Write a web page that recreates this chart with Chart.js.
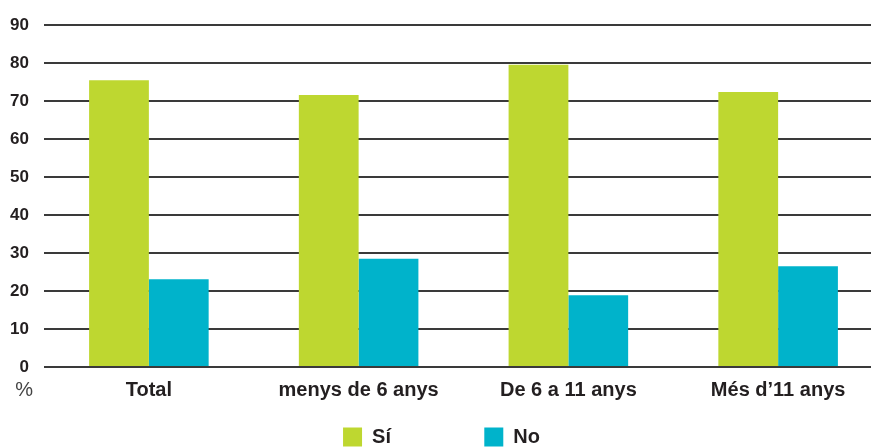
<!DOCTYPE html>
<html>
<head>
<meta charset="utf-8">
<script src="https://cdn.jsdelivr.net/npm/chart.js@4"></script>
<style>
  html, body { margin: 0; padding: 0; background: #fff; overflow: hidden; }
  #wrap { width: 871px; height: 448px; overflow: hidden; }
</style>
</head>
<body>
<div id="wrap"><canvas id="myChart" width="883" height="457"></canvas></div>
<script>
// valors llegits del gràfic (%)
const categories = ['Total', 'menys de 6 anys', 'De 6 a 11 anys', 'Més d\u201911 anys'];
const valorsSi = [75.5, 71.6, 79.6, 72.4];
const valorsNo = [23.1, 28.5, 18.9, 26.5];
const yTicks = [0, 10, 20, 30, 40, 50, 60, 70, 80, 90];

const textColor = '#231f20';

// escriu el "%" sota l'eix vertical
const percentLabel = {
    id: 'percentLabel',
    afterDraw(chart) {
        const ctx = chart.ctx;
        const y = chart.scales.y.getPixelForValue(0) + 11 + 12;
        ctx.save();
        ctx.font = '20px "Liberation Sans", Arial, sans-serif';
        ctx.fillStyle = '#444';
        ctx.textAlign = 'right';
        ctx.textBaseline = 'middle';
        ctx.fillText('%', 33, y);
        ctx.restore();
    }
};

const ctx = document.getElementById('myChart').getContext('2d');
const myChart = new Chart(ctx, {
    type: 'bar',
    data: {
        labels: categories,
        datasets: [{
            label: 'Sí',
            data: valorsSi,
            backgroundColor: '#bed730',
            borderWidth: 0
        }, {
            label: 'No',
            data: valorsNo,
            backgroundColor: '#00b3cb',
            borderWidth: 0
        }]
    },
    options: {
        responsive: false,
        animation: false,
        categoryPercentage: 0.57,
        barPercentage: 1,
        layout: { padding: { top: 21, left: 0, right: 0, bottom: 0 } },
        plugins: {
            tooltip: { enabled: false },
            legend: {
                position: 'bottom',
                labels: {
                    boxWidth: 19,
                    boxHeight: 19,
                    padding: 10,
                    color: textColor,
                    font: { family: '"Liberation Sans", Arial, sans-serif', size: 20, weight: 'bold' },
                    generateLabels: function(chart) {
                        const items = Chart.defaults.plugins.legend.labels.generateLabels(chart);
                        // separació entre els dos elements de la llegenda
                        items[0].text = items[0].text + '               ';
                        return items;
                    }
                }
            }
        },
        scales: {
            x: {
                grid: { display: false, drawTicks: false },
                border: { display: false },
                ticks: {
                    padding: 11,
                    color: textColor,
                    maxRotation: 0,
                    font: { family: '"Liberation Sans", Arial, sans-serif', size: 20, weight: 'bold' }
                },
                afterFit: function(scale) { scale.height = 50; }
            },
            y: {
                min: 0,
                max: 90,
                afterBuildTicks: function(scale) {
                    scale.ticks = yTicks.map(v => ({ value: v }));
                },
                grid: { color: '#3a3a3a', lineWidth: 2, drawTicks: false },
                border: { display: false },
                ticks: {
                    padding: 15,
                    color: textColor,
                    font: { family: '"Liberation Sans", Arial, sans-serif', size: 17, weight: 'bold' }
                },
                afterFit: function(scale) { scale.width = 44; }
            }
        }
    },
    plugins: [percentLabel]
});
</script>
</body>
</html>
